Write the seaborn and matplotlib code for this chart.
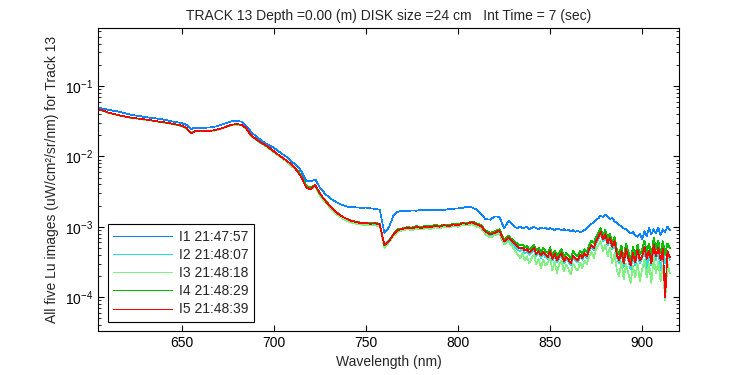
import numpy as np
import pandas as pd
import matplotlib
matplotlib.use("Agg")
import matplotlib.pyplot as plt
import seaborn as sns

# Wavelength grid (nm): 2.5 nm sampling up to 825 nm, 1.25 nm in the noisy tail
wavelength = np.concatenate([np.arange(605, 827.5, 2.5),
                             np.arange(827.5, 916, 1.25)])

# Lu spectra in units of 1e-3 uW/cm^2/sr/nm
i1 = [49.0, 47.5, 46.0, 44.5, 43.5, 42.0, 40.5, 39.0, 38.0, 37.0,
      36.2, 35.5, 34.8, 34.0, 33.3, 32.2, 31.2, 30.5, 29.5, 28.0,
      24.5, 25.6, 25.4, 25.5, 25.6, 26.2, 27.2, 28.6, 30.2, 31.8,
      32.0, 31.0, 27.0, 22.5, 19.5, 17.4, 15.6, 14.3, 13.2, 11.8,
      10.6, 9.6, 8.3, 7.4, 6.1, 4.5, 4.4, 4.7, 3.6, 3.0,
      2.6, 2.35, 2.15, 2.02, 1.93, 1.90, 1.88, 1.86, 1.87, 1.82,
      1.80, 1.74, 0.82, 0.98, 1.45, 1.65, 1.66, 1.68, 1.70, 1.69,
      1.73, 1.71, 1.74, 1.72, 1.75, 1.73, 1.78, 1.80, 1.82, 1.86,
      1.92, 1.88, 1.76, 1.50, 1.28, 1.26, 1.40, 1.38, 0.95,
      1.22, 1.12, 1.05, 0.98, 0.96, 1.00, 0.94, 0.97,
      0.99, 0.93, 0.96, 1.00, 0.95, 0.92, 0.97, 0.94,
      0.96, 0.91, 0.95, 0.93, 0.90, 0.94, 0.92, 0.89,
      0.92, 0.88, 0.90, 0.86, 0.89, 0.85, 0.87, 0.84,
      0.86, 0.90, 0.96, 1.02, 1.10, 1.16, 1.25, 1.32,
      1.45, 1.36, 1.48, 1.38, 1.30, 1.33, 1.20, 1.12,
      1.05, 1.02, 0.95, 0.92, 0.85, 0.80, 0.84, 0.76,
      0.72, 0.80, 0.66, 0.86, 0.74, 0.95, 0.78, 0.92,
      0.80, 0.97, 0.76, 0.92, 0.84, 1.00, 0.90]

i2 = [46.0, 44.2, 41.8, 40.2, 38.8, 37.4, 36.3, 35.3, 34.6, 34.0,
      33.2, 32.6, 31.8, 31.0, 30.4, 29.6, 28.8, 28.0, 27.0, 25.3,
      21.5, 23.0, 23.0, 22.9, 22.9, 23.3, 24.2, 25.4, 26.8, 28.1,
      28.4, 27.8, 24.8, 19.8, 17.6, 15.8, 14.5, 13.0, 11.6, 10.4,
      9.3, 8.4, 7.3, 6.4, 5.2, 3.7, 3.5, 3.8, 2.85, 2.4,
      2.0, 1.72, 1.48, 1.34, 1.24, 1.17, 1.13, 1.10, 1.09, 1.08,
      1.07, 1.05, 0.56, 0.64, 0.78, 0.88, 0.92, 0.95, 0.94, 0.97,
      0.95, 0.98, 0.97, 1.01, 0.99, 1.03, 1.01, 1.06, 1.04, 1.10,
      1.08, 1.12, 1.05, 1.00, 0.82, 0.76, 0.80, 0.85, 0.60,
      0.66, 0.60, 0.56, 0.51, 0.47, 0.45, 0.48, 0.42,
      0.44, 0.40, 0.43, 0.46, 0.38, 0.42, 0.36, 0.41,
      0.37, 0.35, 0.42, 0.33, 0.38, 0.31, 0.36, 0.39,
      0.30, 0.35, 0.32, 0.28, 0.36, 0.33, 0.31, 0.38,
      0.34, 0.40, 0.36, 0.45, 0.52, 0.47, 0.58, 0.68,
      0.78, 0.62, 0.72, 0.54, 0.64, 0.48, 0.58, 0.37,
      0.30, 0.42, 0.27, 0.44, 0.33, 0.25, 0.39, 0.28,
      0.43, 0.30, 0.35, 0.48, 0.26, 0.42, 0.28, 0.50,
      0.34, 0.46, 0.24, 0.44, 0.30, 0.40, 0.34]

i3 = [45.8, 44.0, 41.5, 40.0, 38.5, 37.2, 36.0, 35.0, 34.4, 33.8,
      33.0, 32.4, 31.6, 30.8, 30.2, 29.4, 28.6, 27.8, 26.8, 25.0,
      21.8, 22.7, 22.8, 22.7, 22.8, 23.1, 24.0, 25.2, 26.6, 27.9,
      28.2, 27.6, 24.6, 19.6, 17.4, 15.6, 14.3, 12.8, 11.4, 10.2,
      9.1, 8.2, 7.1, 6.2, 5.0, 3.6, 3.4, 3.7, 2.75, 2.3,
      1.92, 1.65, 1.43, 1.30, 1.20, 1.13, 1.10, 1.07, 1.06, 1.05,
      1.04, 1.02, 0.50, 0.60, 0.74, 0.85, 0.89, 0.92, 0.90, 0.94,
      0.92, 0.95, 0.93, 0.98, 0.95, 1.00, 0.97, 1.03, 1.00, 1.06,
      1.04, 1.08, 1.00, 0.95, 0.78, 0.70, 0.76, 0.80, 0.56,
      0.62, 0.55, 0.50, 0.44, 0.40, 0.36, 0.42, 0.33,
      0.38, 0.30, 0.36, 0.40, 0.29, 0.35, 0.26, 0.34,
      0.28, 0.31, 0.36, 0.24, 0.32, 0.22, 0.30, 0.33,
      0.23, 0.29, 0.25, 0.21, 0.30, 0.26, 0.24, 0.31,
      0.26, 0.33, 0.29, 0.38, 0.44, 0.36, 0.48, 0.55,
      0.62, 0.45, 0.56, 0.38, 0.50, 0.30, 0.42, 0.24,
      0.20, 0.32, 0.18, 0.30, 0.22, 0.16, 0.28, 0.19,
      0.30, 0.17, 0.25, 0.34, 0.19, 0.30, 0.16, 0.36,
      0.22, 0.32, 0.17, 0.28, 0.09, 0.30, 0.22]

i4 = [46.2, 44.3, 41.8, 40.4, 38.9, 37.4, 36.4, 35.4, 34.7, 34.1,
      33.4, 32.7, 31.9, 31.1, 30.5, 29.7, 28.9, 28.1, 27.1, 25.4,
      21.3, 23.1, 23.1, 23.0, 23.0, 23.4, 24.3, 25.5, 26.9, 28.2,
      28.5, 27.9, 24.9, 20.0, 17.7, 15.9, 14.6, 13.1, 11.7, 10.5,
      9.4, 8.5, 7.4, 6.5, 5.3, 3.8, 3.6, 3.9, 2.9, 2.45,
      2.05, 1.76, 1.53, 1.38, 1.28, 1.21, 1.17, 1.14, 1.14, 1.12,
      1.13, 1.10, 0.54, 0.63, 0.79, 0.92, 0.95, 0.99, 0.97, 1.02,
      0.99, 1.03, 1.01, 1.06, 1.03, 1.08, 1.05, 1.11, 1.08, 1.15,
      1.13, 1.19, 1.12, 1.06, 0.88, 0.82, 0.86, 0.92, 0.66,
      0.74, 0.68, 0.64, 0.60, 0.57, 0.54, 0.56, 0.51,
      0.53, 0.48, 0.51, 0.56, 0.46, 0.50, 0.44, 0.50,
      0.45, 0.42, 0.51, 0.40, 0.46, 0.38, 0.43, 0.48,
      0.37, 0.42, 0.39, 0.35, 0.45, 0.40, 0.38, 0.46,
      0.41, 0.48, 0.44, 0.55, 0.64, 0.58, 0.72, 0.84,
      0.95, 0.76, 0.90, 0.68, 0.80, 0.60, 0.72, 0.48,
      0.40, 0.54, 0.36, 0.58, 0.44, 0.34, 0.52, 0.38,
      0.56, 0.40, 0.47, 0.64, 0.44, 0.58, 0.38, 0.70,
      0.48, 0.64, 0.42, 0.62, 0.40, 0.58, 0.50]

i5 = [46.5, 44.5, 42.0, 40.5, 39.0, 37.5, 36.5, 35.5, 34.8, 34.2,
      33.5, 32.8, 32.0, 31.2, 30.6, 29.8, 29.0, 28.2, 27.2, 25.5,
      21.0, 23.0, 23.2, 23.0, 23.0, 23.4, 24.3, 25.5, 27.0, 28.3,
      28.6, 28.0, 25.0, 20.0, 17.8, 16.0, 14.7, 13.2, 11.8, 10.5,
      9.4, 8.5, 7.4, 6.3, 5.0, 3.6, 3.4, 3.9, 3.0, 2.4,
      2.05, 1.75, 1.52, 1.38, 1.27, 1.20, 1.16, 1.12, 1.13, 1.10,
      1.12, 1.08, 0.55, 0.62, 0.78, 0.90, 0.93, 0.97, 0.95, 0.99,
      0.96, 1.00, 0.98, 1.03, 1.00, 1.05, 1.02, 1.08, 1.05, 1.12,
      1.10, 1.16, 1.08, 1.02, 0.85, 0.78, 0.82, 0.88, 0.62,
      0.70, 0.64, 0.60, 0.55, 0.52, 0.49, 0.51, 0.46,
      0.48, 0.43, 0.46, 0.50, 0.41, 0.45, 0.39, 0.44,
      0.40, 0.37, 0.45, 0.35, 0.41, 0.33, 0.38, 0.42,
      0.32, 0.37, 0.34, 0.30, 0.39, 0.35, 0.33, 0.40,
      0.36, 0.42, 0.38, 0.48, 0.55, 0.50, 0.62, 0.72,
      0.85, 0.66, 0.78, 0.58, 0.70, 0.52, 0.63, 0.40,
      0.33, 0.45, 0.30, 0.48, 0.36, 0.28, 0.42, 0.31,
      0.47, 0.33, 0.38, 0.52, 0.35, 0.46, 0.30, 0.55,
      0.38, 0.50, 0.34, 0.48, 0.10, 0.45, 0.37]

series_labels = ["I1 21:47:57", "I2 21:48:07", "I3 21:48:18",
                 "I4 21:48:29", "I5 21:48:39"]
series_values = [i1, i2, i3, i4, i5]
colors = ["#0a84ff", "#22e0e0", "#80f080", "#00c000", "#ff0000"]
unit_scale = 1e-3

title = "TRACK 13 Depth =0.00 (m) DISK size =24 cm   Int Time = 7 (sec)"

sns.set_style("ticks")
plt.rcParams["font.family"] = ["Liberation Sans", "DejaVu Sans"]
plt.rcParams["mathtext.fontset"] = "custom"
plt.rcParams["mathtext.rm"] = "Liberation Sans"
plt.rcParams["mathtext.default"] = "regular"

fig = plt.figure(figsize=(7.5, 3.75), dpi=100)
ax = fig.add_axes([0.1307, 0.1173, 0.7746, 0.808])

for label, vals, color in zip(series_labels, series_values, colors):
    df = pd.DataFrame({"wavelength": wavelength,
                       "lu": np.array(vals) * unit_scale})
    sns.lineplot(data=df, x="wavelength", y="lu", color=color,
                 linewidth=0.5, label=label, ax=ax, estimator=None,
                 antialiased=False)

ax.set_yscale("log")
ax.set_xlim(604.5, 920)
ax.set_ylim(3.3e-5, 0.665)
ax.set_xticks([650, 700, 750, 800, 850, 900])

ax.tick_params(which="both", direction="in", top=True, right=True,
               labelsize=10, colors="black")
ax.tick_params(which="major", length=4, width=0.8)
ax.tick_params(which="minor", length=2, width=0.6)
for sp in ax.spines.values():
    sp.set_linewidth(0.8)
    sp.set_color("black")

ax.set_xlabel("Wavelength (nm)", fontsize=10)
ax.set_ylabel("All five Lu images (uW/cm²/sr/nm) for Track 13", fontsize=10)
ax.set_title(title, fontsize=10)

leg = ax.legend(loc="lower left", bbox_to_anchor=(0.017, 0.03),
                borderaxespad=0, fontsize=10, handlelength=4.2,
                handletextpad=0.5, labelspacing=0.3, borderpad=0.4,
                fancybox=False, framealpha=1, edgecolor="black")
leg.get_frame().set_linewidth(0.8)
for line in leg.get_lines():
    line.set_antialiased(False)
    line.set_linewidth(0.5)

fig.savefig("out.png", dpi=100)
